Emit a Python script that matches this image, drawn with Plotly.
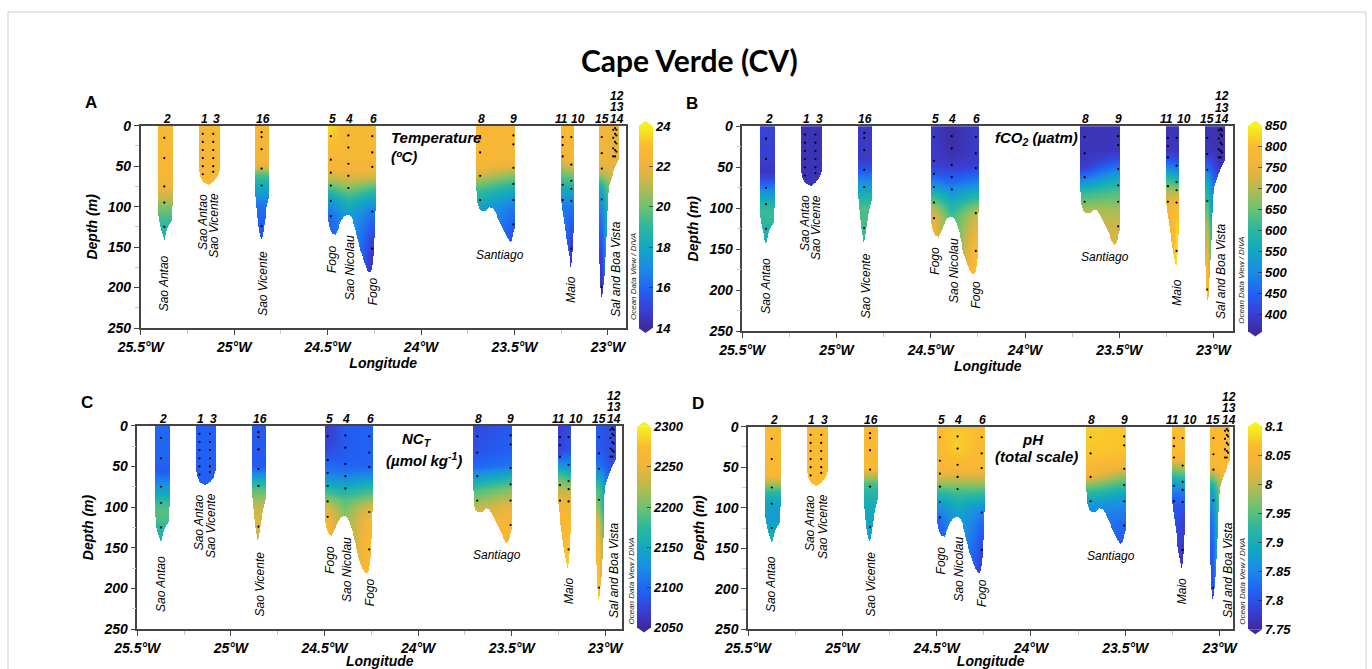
import numpy as np
import plotly.graph_objects as go

W, H = 1372, 669

# ------------------------------------------------------------------ data
TICK_LON = [-25.5, -25.0, -24.5, -24.0, -23.5, -23.0]
TICK_LON_TEXT = ['25.5°W', '25°W', '24.5°W', '24°W', '23.5°W', '23°W']
MINOR_LON = [-25.25, -24.75, -24.25, -23.75, -23.25]
DEPTH_TICKS = [0, 50, 100, 150, 200, 250]
MINOR_DEPTH = [25, 75, 125, 175, 225]

STATION_LABELS = ['2', '1', '3', '16', '5', '4', '6', '8', '9', '11', '10', '15', '12', '13', '14']
STATION_LABEL_LON = [-25.361, -25.161, -25.093, -24.847, -24.475, -24.385, -24.255,
                     -23.679, -23.506, -23.251, -23.158, -23.033, -22.953, -22.953, -22.953]
STATION_LABEL_ROW = [0, 0, 0, 0, 0, 0, 0, 0, 0, 0, 0, 0, 2, 1, 0]

# cast positions (longitude) and sampled depths (m)
CAST_LON = {'2': -25.374, '1': -25.168, '3': -25.112, '16': -24.853, '5': -24.483,
            '4': -24.389, '6': -24.261, '8': -23.684, '9': -23.506, '11': -23.242,
            '10': -23.196, '15': -23.033, '12': -22.972, '13': -22.962, '14': -22.955}
CAST_DEPTHS = {'2': [15, 40, 75, 95, 125], '1': [10, 20, 30, 40, 50, 60],
               '3': [10, 20, 30, 40, 50, 57], '16': [8, 14, 29, 53, 74, 124],
               '5': [13, 42, 58, 74, 93, 112], '4': [12, 27, 47, 62, 77],
               '6': [13, 33, 51, 106, 152], '8': [13, 33, 62, 92], '9': [12, 23, 52, 72, 92, 122],
               '11': [14, 24, 38, 73, 92], '10': [14, 48, 68, 78, 93, 152],
               '15': [14, 34, 53, 91, 199], '12': [5, 15, 28, 38], '13': [3, 10, 20, 30, 38],
               '14': [5, 12, 22, 32]}

# sampled envelope of each section segment: longitude, deepest gridded depth
BLOBS = [
    dict(casts=['2'],
         lon=[-25.406, -25.398, -25.39, -25.382, -25.374, -25.366, -25.358, -25.345, -25.333, -25.326],
         bottom=[110, 122, 130, 137, 143, 137, 128, 122, 118, 76]),
    dict(casts=['1', '3'],
         lon=[-25.186, -25.18, -25.17, -25.155, -25.14, -25.125, -25.11, -25.095, -25.085, -25.076],
         bottom=[55, 63, 68, 71, 73, 72, 69, 64, 59, 52]),
    dict(casts=['16'],
         lon=[-24.885, -24.878, -24.87, -24.862, -24.853, -24.845, -24.835, -24.825, -24.812],
         bottom=[88, 108, 125, 137, 142, 132, 115, 100, 88]),
    dict(casts=['5', '4', '6'],
         lon=[-24.496, -24.488, -24.475, -24.46, -24.445, -24.43, -24.41, -24.39, -24.372, -24.355,
              -24.34, -24.325, -24.31, -24.295, -24.283, -24.272, -24.262, -24.254, -24.248, -24.244],
         bottom=[118, 128, 134, 135, 128, 119, 112, 110, 114, 125,
                 140, 155, 166, 175, 180, 181, 176, 160, 130, 98]),
    dict(casts=['8', '9'],
         lon=[-23.706, -23.70, -23.69, -23.676, -23.655, -23.635, -23.615, -23.595, -23.578, -23.565,
              -23.551, -23.535, -23.524, -23.512, -23.503, -23.497],
         bottom=[78, 95, 103, 106, 106, 101, 103, 112, 120, 127, 134, 141, 145, 140, 130, 125]),
    dict(casts=['11', '10'],
         lon=[-23.251, -23.245, -23.235, -23.225, -23.215, -23.205, -23.199, -23.192, -23.186, -23.182],
         bottom=[93, 105, 122, 140, 155, 168, 176, 165, 140, 115]),
    dict(casts=['15', '13'],
         lon=[-23.045, -23.040, -23.034, -23.028, -23.020, -23.012, -23.004, -22.998, -22.985, -22.970,
              -22.955, -22.944],
         bottom=[170, 200, 215, 205, 185, 150, 100, 75, 65, 55, 47, 42]),
]

# profiles read from the sections: (depths, values)
TEMP_PROFILES = {
    '2': ([0, 30, 60, 75, 90, 100, 110, 125, 142], [22.6, 22.6, 22.5, 22.2, 21.2, 20.3, 19.6, 18.9, 18.5]),
    '1': ([0, 72], [22.6, 22.6]),
    '3': ([0, 72], [22.6, 22.6]),
    '16': ([0, 40, 50, 60, 70, 80, 90, 100, 120, 142], [22.5, 22.4, 21.8, 19.6, 18.5, 17.8, 17.0, 16.3, 15.8, 15.5]),
    '5': ([0, 10, 25, 40, 55, 65, 75, 85, 95, 110, 135], [23.6, 23.4, 23.0, 22.6, 22.1, 21.1, 19.8, 18.5, 17.3, 16.3, 15.7]),
    '4': ([0, 40, 55, 65, 75, 85, 95, 110], [22.6, 22.6, 22.2, 21.5, 20.5, 19.5, 18.5, 17.6]),
    '6': ([0, 40, 55, 65, 75, 85, 95, 105, 120, 140, 160, 181], [22.6, 22.6, 22.2, 21.2, 19.8, 18.5, 17.5, 16.6, 15.8, 15.0, 14.6, 14.3]),
    '8': ([0, 40, 50, 60, 70, 80, 90, 100, 106], [22.6, 22.6, 22.3, 21.5, 20.3, 19.2, 18.5, 17.9, 17.6]),
    '9': ([0, 40, 50, 60, 70, 80, 90, 100, 115, 130, 145], [22.6, 22.5, 21.8, 20.5, 19.3, 18.2, 17.3, 16.5, 16.0, 15.5, 15.2]),
    '11': ([0, 10, 20, 30, 40, 50, 60, 70, 80, 90, 100], [23.0, 22.9, 22.7, 22.4, 22.0, 21.0, 20.0, 19.0, 18.0, 17.2, 16.5]),
    '10': ([0, 40, 50, 60, 70, 80, 90, 100, 120, 140, 160, 176], [22.8, 22.4, 21.5, 20.3, 19.2, 18.0, 17.2, 16.5, 15.6, 15.0, 14.6, 14.4]),
    '15': ([0, 40, 55, 65, 75, 90, 110, 130, 160, 190, 215], [22.3, 22.2, 21.5, 20.0, 18.5, 17.3, 16.5, 15.9, 15.0, 14.5, 14.2]),
    '13': ([0, 60], [21.9, 21.9]),
}
FCO2_PROFILES = {
    '2': ([0, 40, 55, 65, 75, 85, 95, 105, 115, 125, 142], [410, 400, 385, 420, 480, 540, 590, 615, 610, 590, 570]),
    '1': ([0, 72], [380, 380]),
    '3': ([0, 72], [380, 380]),
    '16': ([0, 40, 50, 60, 70, 80, 90, 100, 120, 142], [390, 395, 420, 470, 520, 560, 600, 630, 625, 600]),
    '5': ([0, 40, 50, 60, 70, 80, 90, 100, 110, 135], [390, 395, 410, 440, 500, 570, 640, 700, 740, 770]),
    '4': ([0, 30, 50, 60, 70, 80, 95, 110], [365, 370, 400, 430, 470, 520, 580, 620]),
    '6': ([0, 40, 50, 60, 70, 80, 90, 100, 110, 130, 150, 181], [395, 395, 410, 450, 500, 560, 620, 680, 720, 760, 790, 820]),
    '8': ([0, 40, 50, 60, 70, 80, 90, 100, 110], [380, 385, 400, 460, 530, 600, 650, 690, 710]),
    '9': ([0, 30, 40, 50, 60, 70, 80, 90, 100, 120, 145], [380, 385, 420, 480, 540, 590, 630, 660, 690, 720, 740]),
    '11': ([0, 30, 40, 50, 60, 70, 80, 90, 100], [380, 385, 430, 500, 580, 640, 700, 740, 760]),
    '10': ([0, 30, 40, 50, 60, 70, 80, 90, 100, 120, 150, 176], [380, 385, 420, 480, 550, 620, 700, 760, 790, 820, 830, 840]),
    '15': ([0, 30, 40, 50, 60, 70, 80, 100, 120, 150, 180, 215], [380, 385, 420, 460, 520, 560, 590, 640, 690, 740, 775, 790]),
    '13': ([0, 60], [375, 375]),
}
NCT_PROFILES = {
    '2': ([0, 40, 55, 65, 75, 85, 95, 105, 115, 125, 142], [2100, 2098, 2090, 2110, 2135, 2155, 2180, 2192, 2188, 2172, 2162]),
    '1': ([0, 72], [2095, 2095]),
    '3': ([0, 72], [2095, 2095]),
    '16': ([0, 50, 60, 70, 80, 90, 100, 120, 142], [2090, 2092, 2125, 2165, 2195, 2215, 2230, 2240, 2230]),
    '5': ([0, 20, 40, 55, 65, 75, 90, 100, 115, 135], [2068, 2072, 2090, 2110, 2130, 2160, 2210, 2240, 2260, 2270]),
    '4': ([0, 40, 55, 65, 75, 90, 110], [2090, 2092, 2105, 2125, 2150, 2190, 2210]),
    '6': ([0, 50, 60, 70, 80, 90, 100, 120, 150, 181], [2095, 2098, 2120, 2150, 2180, 2210, 2240, 2260, 2272, 2278]),
    '8': ([0, 30, 50, 60, 70, 80, 90, 100, 110], [2078, 2085, 2100, 2130, 2160, 2190, 2210, 2230, 2240]),
    '9': ([0, 30, 50, 60, 70, 80, 90, 100, 120, 145], [2090, 2095, 2110, 2150, 2180, 2210, 2230, 2250, 2262, 2268]),
    '11': ([0, 30, 40, 50, 60, 70, 80, 90, 100], [2068, 2075, 2100, 2140, 2180, 2210, 2230, 2250, 2262]),
    '10': ([0, 30, 50, 60, 70, 80, 100, 120, 150, 176], [2080, 2085, 2130, 2170, 2200, 2230, 2260, 2272, 2280, 2285]),
    '15': ([0, 30, 50, 60, 70, 80, 100, 120, 150, 180, 215], [2090, 2092, 2110, 2140, 2170, 2190, 2210, 2240, 2265, 2278, 2285]),
    '13': ([0, 60], [2080, 2080]),
}
PH_PROFILES = {
    '2': ([0, 50, 60, 70, 80, 90, 100, 110, 125, 142], [8.065, 8.06, 8.045, 7.99, 7.93, 7.895, 7.88, 7.875, 7.89, 7.9]),
    '1': ([0, 72], [8.065, 8.065]),
    '3': ([0, 72], [8.065, 8.065]),
    '16': ([0, 50, 60, 70, 80, 100, 120, 142], [8.065, 8.06, 8.0, 7.945, 7.92, 7.895, 7.885, 7.875]),
    '5': ([0, 40, 50, 60, 70, 80, 90, 100, 115, 135], [8.065, 8.06, 8.05, 8.02, 7.98, 7.93, 7.89, 7.86, 7.82, 7.8]),
    '4': ([0, 10, 30, 40, 50, 60, 70, 80, 95, 110], [8.07, 8.078, 8.075, 8.065, 8.05, 8.02, 7.98, 7.94, 7.9, 7.88]),
    '6': ([0, 40, 50, 60, 70, 80, 90, 100, 120, 150, 181], [8.065, 8.06, 8.05, 8.02, 7.98, 7.94, 7.9, 7.86, 7.82, 7.79, 7.77]),
    '8': ([0, 20, 40, 60, 70, 80, 90, 100, 110], [8.078, 8.075, 8.068, 8.04, 7.98, 7.93, 7.89, 7.86, 7.85]),
    '9': ([0, 30, 40, 50, 60, 70, 80, 90, 100, 120, 145], [8.072, 8.07, 8.06, 8.03, 7.98, 7.94, 7.9, 7.87, 7.85, 7.82, 7.8]),
    '11': ([0, 30, 40, 50, 60, 70, 80, 90, 100], [8.068, 8.065, 8.04, 7.98, 7.93, 7.88, 7.84, 7.81, 7.8]),
    '10': ([0, 30, 40, 50, 60, 70, 80, 100, 120, 150, 176], [8.068, 8.065, 8.04, 7.99, 7.94, 7.89, 7.84, 7.8, 7.78, 7.77, 7.76]),
    '15': ([0, 40, 50, 60, 70, 80, 100, 120, 150, 180, 215], [8.06, 8.06, 8.04, 7.98, 7.92, 7.88, 7.85, 7.83, 7.81, 7.8, 7.79]),
    '13': ([0, 60], [8.065, 8.065]),
}

ISLAND_NAMES = ['Sao Antao', 'Sao Antao', 'Sao Vicente', 'Sao Vicente', 'Fogo', 'Sao Nicolau',
                'Fogo', 'Santiago', 'Maio', 'Sal and Boa Vista']
ISLAND_LON = [-25.374, -25.170, -25.106, -24.847, -24.475, -24.380, -24.259, -23.578, -23.198, -22.957]
ISLAND_DEPTH = [194.5, 118.6, 123.3, 194.5, 164.5, 176, 205, 159.4, 202.7, 176.9]
ISLAND_ANGLE = [-90, -90, -90, -90, -90, -90, -90, 0, -90, -90]

# panel setup (pixel boxes of the plot areas)
PANELS = [
    dict(letter='A', box=(140.7, 125.7, 625.7, 328.0), xr=[-25.5, -22.905], prof=TEMP_PROFILES,
         zr=[14, 24], ticks=[14, 16, 18, 20, 22, 24], cb=(638.5, 126, 328), odv=(634, 277),
         label=['Temperature', '(ºC)'], label_pos=[(-24.173, 15), (-24.173, 38)], label_anchor='left'),
    dict(letter='B', box=(742.3, 126.3, 1233.3, 331.3), xr=[-25.5, -22.895], prof=FCO2_PROFILES,
         zr=[360, 850], ticks=[400, 450, 500, 550, 600, 650, 700, 750, 800, 850], cb=(1248.3, 125.7, 331.5),
         odv=(1241.7, 280), label=['fCO<sub>2</sub> (µatm)'], label_pos=[(-23.94, 15)], label_anchor='center'),
    dict(letter='C', box=(137.3, 425.7, 622.3, 629.2), xr=[-25.5, -22.909], prof=NCT_PROFILES,
         zr=[2050, 2300], ticks=[2050, 2100, 2150, 2200, 2250, 2300], cb=(637, 426.7, 627.5),
         odv=(630.5, 581), label=['NC<sub>T</sub>', '(µmol kg<sup>-1</sup>)'],
         label_pos=[(-24.007, 17), (-23.97, 41)], label_anchor='center'),
    dict(letter='D', box=(748.0, 426.7, 1233.4, 629.3), xr=[-25.5, -22.927], prof=PH_PROFILES,
         zr=[7.75, 8.1], ticks=[7.75, 7.8, 7.85, 7.9, 7.95, 8.0, 8.05, 8.1], cb=(1248.3, 426.7, 629.3),
         odv=(1241.8, 581), label=['pH', '(total scale)'],
         label_pos=[(-23.989, 16), (-23.973, 37)], label_anchor='center'),
]

# ODV-like palette
CSCALE = [[0.0, '#3d2b9c'], [0.08, '#3a3dd0'], [0.18, '#2160f4'], [0.30, '#1b8de4'],
          [0.40, '#12a8c0'], [0.50, '#2cb89e'], [0.60, '#6dc172'], [0.68, '#a8bd55'],
          [0.75, '#d6b545'], [0.82, '#f3b53a'], [0.90, '#fbba30'], [1.0, '#f4f21c']]

LON = np.round(np.arange(-25.5, -22.88, 0.005), 4)
DEP = np.arange(0, 251, 1.25)


def build_field(profiles):
    Z = np.full((len(DEP), len(LON)), np.nan)
    for blob in BLOBS:
        casts = blob['casts']
        clon = np.array([CAST_LON[c] for c in casts])
        P = np.array([np.interp(DEP, profiles[c][0], profiles[c][1]) for c in casts])
        bl = np.array(blob['lon'])
        bb = np.array(blob['bottom'])
        cols = np.where((LON >= bl[0]) & (LON <= bl[-1]))[0]
        for j in cols:
            bottom = np.interp(LON[j], bl, bb)
            if len(casts) == 1:
                col = P[0]
            else:
                col = np.array([np.interp(LON[j], clon, P[:, i]) for i in range(len(DEP))])
            m = DEP <= bottom
            Z[m, j] = col[m]
    return Z


def fx(px):
    return px / W


def fy(py):
    return 1 - py / H


FONT = 'Liberation Sans, Arial, sans-serif'
TICKFONT = dict(family=FONT, size=14, color='black', weight='bold', style='italic')
TITLEFONT = dict(family=FONT, size=14, color='black', weight='bold', style='italic')

fig = go.Figure()
annotations = []
shapes = []
layout = {}

for k, p in enumerate(PANELS):
    sfx = '' if k == 0 else str(k + 1)
    xa, ya = 'x' + sfx, 'y' + sfx
    x0, y0, x1, y1 = p['box']
    Z = build_field(p['prof'])
    cbx, cbt, cbb = p['cb']
    fig.add_trace(go.Heatmap(
        x=LON, y=DEP, z=Z, xaxis=xa, yaxis=ya, zmin=p['zr'][0], zmax=p['zr'][1],
        colorscale=CSCALE, zsmooth=False, hoverinfo='skip',
        colorbar=dict(x=fx(cbx), xanchor='left', xpad=0, y=fy((cbt + cbb) / 2), yanchor='middle', ypad=0,
                      len=cbb - cbt, lenmode='pixels', thickness=14, thicknessmode='pixels',
                      outlinewidth=0, tickvals=p['ticks'], ticktext=[('%g' % v) for v in p['ticks']],
                      ticks='inside', ticklen=4, tickcolor='rgba(40,40,40,0.7)',
                      tickfont=dict(family=FONT, size=13, color='black', weight='bold', style='italic'))))
    # sample dots
    dx, dy = [], []
    for c, ds in CAST_DEPTHS.items():
        dx += [CAST_LON[c]] * len(ds)
        dy += ds
    fig.add_trace(go.Scatter(x=dx, y=dy, mode='markers', xaxis=xa, yaxis=ya, hoverinfo='skip',
                             marker=dict(size=2.2, color='black'), showlegend=False))

    layout['xaxis' + sfx] = dict(
        domain=[fx(x0), fx(x1)], range=p['xr'], anchor=ya, tickmode='array', tickvals=TICK_LON,
        ticktext=TICK_LON_TEXT, ticks='outside', ticklen=5, tickwidth=1, tickcolor='#444', automargin=False,
        showline=True, linecolor='#444', linewidth=1.5, mirror=True, showgrid=False, zeroline=False,
        tickfont=TICKFONT, title=dict(text='Longitude', font=TITLEFONT, standoff=4),
        minor=dict(tickmode='array', tickvals=MINOR_LON, ticks='outside', ticklen=4, tickcolor='#c8c8c8'))
    layout['yaxis' + sfx] = dict(
        domain=[fy(y1), fy(y0)], range=[250, 0], anchor=xa, tickmode='array', tickvals=DEPTH_TICKS,
        ticks='outside', ticklen=5, tickwidth=1, tickcolor='#444', automargin=False,
        showline=True, linecolor='#444', linewidth=1.5, mirror=True, showgrid=False, zeroline=False,
        tickfont=TICKFONT, title=dict(text='Depth (m)', font=TITLEFONT, standoff=6),
        minor=dict(tickmode='array', tickvals=MINOR_DEPTH, ticks='outside', ticklen=4, tickcolor='#c8c8c8'))

    # station numbers
    for lab, lon, row in zip(STATION_LABELS, STATION_LABEL_LON, STATION_LABEL_ROW):
        annotations.append(dict(x=lon, y=1, xref=xa, yref=ya + ' domain', text=lab, showarrow=False,
                                xanchor='center', yanchor='bottom', yshift=[-1, 10.5, 22][row], borderpad=0,
                                font=dict(family=FONT, size=12, color='black', weight='bold', style='italic')))
    # island names
    for nm, lon, dep, ang in zip(ISLAND_NAMES, ISLAND_LON, ISLAND_DEPTH, ISLAND_ANGLE):
        annotations.append(dict(x=lon, y=dep, xref=xa, yref=ya, text=nm, showarrow=False, textangle=ang,
                                xanchor='center', yanchor='middle',
                                font=dict(family=FONT, size=12, color='black', style='italic')))
    # variable label
    for txt, (lx, ld) in zip(p['label'], p['label_pos']):
        annotations.append(dict(x=lx, y=ld, xref=xa, yref=ya, text=txt, showarrow=False,
                                xanchor=p['label_anchor'], yanchor='middle',
                                font=dict(family=FONT, size=15, color='black', weight='bold', style='italic')))
    # panel letter
    annotations.append(dict(x=fx(x0 - 50), y=fy(y0 - 23), xref='paper', yref='paper', text=p['letter'],
                            showarrow=False, xanchor='center', yanchor='middle',
                            font=dict(family=FONT, size=17, color='black', weight='bold')))
    # ODV credit
    ox, oy = p['odv']
    annotations.append(dict(x=fx(ox), y=fy(oy), xref='paper', yref='paper', text='Ocean Data View / DIVA',
                            showarrow=False, textangle=-90, xanchor='center', yanchor='middle', borderpad=0,
                            font=dict(family=FONT, size=8, color='#222', style='italic')))
    # colour-bar end triangles
    bx0, bx1 = cbx, cbx + 14
    mid = (bx0 + bx1) / 2
    shapes.append(dict(type='path', xref='paper', yref='paper', line=dict(width=0), fillcolor=CSCALE[-1][1],
                       path=f'M {fx(bx0)},{fy(cbt)} L {fx(mid)},{fy(cbt - 5)} L {fx(bx1)},{fy(cbt)} Z'))
    shapes.append(dict(type='path', xref='paper', yref='paper', line=dict(width=0), fillcolor=CSCALE[0][1],
                       path=f'M {fx(bx0)},{fy(cbb)} L {fx(mid)},{fy(cbb + 5)} L {fx(bx1)},{fy(cbb)} Z'))

# title
annotations.append(dict(x=fx(689), y=fy(60), xref='paper', yref='paper', text='<b>Cape Verde (CV)</b>',
                        showarrow=False, xanchor='center', yanchor='middle',
                        font=dict(family='Lato, Open Sans, sans-serif', size=30, color='black')))
# outer frame
shapes.append(dict(type='rect', xref='paper', yref='paper', x0=fx(8), x1=fx(1366), y0=fy(680), y1=fy(12),
                   line=dict(color='#cfcfcf', width=1)))

fig.update_layout(template='none', width=W, height=H, margin=dict(l=0, r=0, t=0, b=0, autoexpand=False),
                  paper_bgcolor='white', plot_bgcolor='white', showlegend=False,
                  annotations=annotations, shapes=shapes, **layout)
fig.write_html('out.html', config={'displayModeBar': False},
               post_script="document.body.style.margin='0';document.body.style.padding='0';"
                           "document.body.style.overflow='hidden';"
                           "document.documentElement.style.overflow='hidden';")
